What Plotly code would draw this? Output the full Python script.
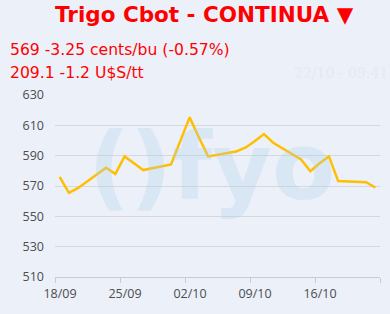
import plotly.graph_objects as go

dates = ["2024-09-18", "2024-09-19", "2024-09-20", "2024-09-23", "2024-09-24",
         "2024-09-25", "2024-09-26", "2024-09-27", "2024-09-30", "2024-10-01",
         "2024-10-02", "2024-10-03", "2024-10-04", "2024-10-07", "2024-10-08",
         "2024-10-09", "2024-10-10", "2024-10-11", "2024-10-14", "2024-10-15",
         "2024-10-16", "2024-10-17", "2024-10-18", "2024-10-21", "2024-10-22"]
prices = [576, 565.5, 568.75, 582, 578,
          589.5, 585, 580.5, 584.25, 600,
          615.25, 602, 589.5, 592.75, 595.25,
          599.5, 604.25, 598.5, 587.5, 579.75,
          585, 589.5, 573.25, 572.5, 569]
tick_dates = ["2024-09-18", "2024-09-25", "2024-10-02", "2024-10-09", "2024-10-16", "2024-10-23"]
tick_labels = ["18/09", "25/09", "02/10", "09/10", "16/10", ""]
y_ticks = [510, 530, 550, 570, 590, 610, 630]

title = "Trigo Cbot - CONTINUA \u25bc"
line1 = "569 -3.25 cents/bu (-0.57%)"
line2 = "209.1 -1.2 U$S/tt"
stamp = "22/10 - 09:41"

bg = "#ECF0F9"
x_vals = [d + " 12:00" for d in dates]

fig = go.Figure()
fig.add_trace(go.Scatter(x=x_vals, y=prices, mode="lines",
                         line=dict(color="#FFBF00", width=2.5), hoverinfo="skip"))

fig.update_layout(
    width=390, height=314,
    margin=dict(l=55, r=10, t=95, b=37),
    paper_bgcolor=bg, plot_bgcolor=bg,
    showlegend=False,
    font=dict(family="Open Sans", color="#4d4d4d", size=12.5),
    xaxis=dict(range=["2024-09-18", "2024-10-23"], tickvals=tick_dates, ticktext=tick_labels,
               showgrid=False, showline=True, linecolor="#cccccc", linewidth=1,
               ticks="outside", ticklen=5, tickcolor="#cccccc", ticklabelshift=5,
               tickfont=dict(size=12.5, color="#4d4d4d"), zeroline=False),
    yaxis=dict(range=[510, 630], tickvals=y_ticks, showgrid=True, gridcolor="#d6d8dd",
               gridwidth=1, zeroline=False, showline=False, ticks="",
               tickfont=dict(size=12.5, color="#4d4d4d"), ticklabelstandoff=10),
    annotations=[
        dict(text="<b>()fyo</b>", x=0.48, y=0.6, xref="paper", yref="paper", showarrow=False,
             font=dict(family="DejaVu Sans", size=92, color="rgba(170,210,232,0.28)")),
        dict(text="<b>" + title + "</b>", x=0.46, y=1.445, xref="paper", yref="paper",
             xanchor="center", yanchor="middle", showarrow=False,
             font=dict(family="DejaVu Sans", size=21.5, color="#FF0000")),
        dict(text=line1, x=-0.145, y=1.247, xref="paper", yref="paper", showarrow=False,
             xanchor="left", yanchor="middle",
             font=dict(family="DejaVu Sans", size=15.6, color="#FF0000")),
        dict(text=line2, x=-0.145, y=1.121, xref="paper", yref="paper", showarrow=False,
             xanchor="left", yanchor="middle",
             font=dict(family="DejaVu Sans", size=15.6, color="#FF0000")),
        dict(text=stamp, x=1.03, y=1.121, xref="paper", yref="paper", showarrow=False,
             xanchor="right", yanchor="middle",
             font=dict(family="DejaVu Serif", size=14, color="#E6E9F1")),
    ],
)

fig.write_html("out.html")
